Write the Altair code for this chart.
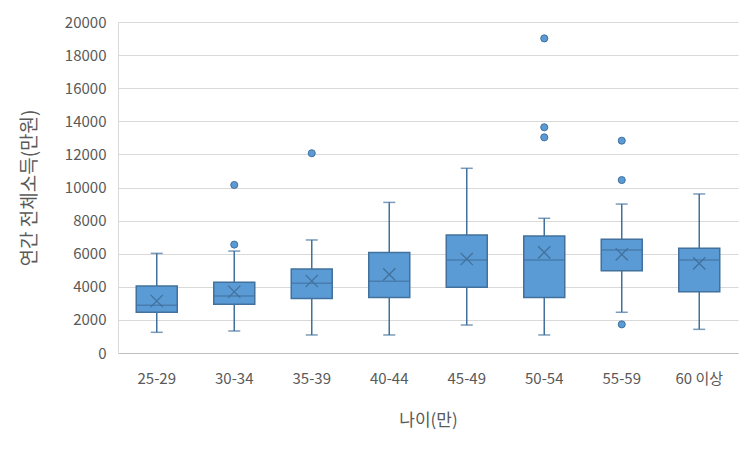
import altair as alt
import pandas as pd

categories = ["25-29", "30-34", "35-39", "40-44", "45-49", "50-54", "55-59", "60 이상"]
whisker_low = [1250, 1330, 1090, 1090, 1690, 1090, 2460, 1430]
q1 = [2460, 2940, 3300, 3360, 3970, 3360, 4970, 3700]
median = [2880, 3440, 4210, 4330, 5620, 5620, 6220, 5620]
q3 = [4050, 4270, 5080, 6080, 7130, 7070, 6870, 6330]
whisker_high = [6020, 6160, 6830, 9100, 11160, 8140, 9000, 9610]
mean = [3140, 3700, 4350, 4750, 5680, 6080, 5960, 5420]

outlier_cat = ["30-34", "30-34", "35-39", "50-54", "50-54", "50-54", "55-59", "55-59", "55-59"]
outlier_val = [6550, 10150, 12070, 19010, 13640, 13030, 12830, 10450, 1730]
y_ticks = list(range(0, 20001, 2000))

box = pd.DataFrame({
    "age": categories, "lo": whisker_low, "q1": q1, "med": median,
    "q3": q3, "hi": whisker_high, "mean": mean,
})
outl = pd.DataFrame({"age": outlier_cat, "v": outlier_val})

FILL = "#5B9BD5"
LINE = "#41719C"
FONT = "Noto Sans CJK KR"

x = alt.X("age:N", sort=categories, title="나이(만)",
          axis=alt.Axis(labelAngle=0, ticks=False, labelPadding=18, titlePadding=26,
                        domainColor="#BFBFBF", labelFontSize=15, titleFontSize=17,
                        labelColor="#595959", titleColor="#595959", titleFontWeight="normal"))
yscale = alt.Scale(domain=[0, 20000], nice=False)
yaxis = alt.Axis(values=y_ticks, format="d", ticks=False, labelOverlap=False,
                 labelPadding=12, titlePadding=25, gridColor="#D9D9D9", domainColor="#D9D9D9",
                 labelFontSize=15, titleFontSize=19, labelColor="#595959",
                 titleColor="#595959", titleFontWeight="normal")


def Y(field):
    return alt.Y(field, type="quantitative", scale=yscale, axis=yaxis,
                 title="연간 전체소득(만원)")


base = alt.Chart(box).encode(x=x)

whisk = base.mark_rule(color=LINE, strokeWidth=1.5).encode(y=Y("lo"), y2="hi:Q")
cap_lo = base.mark_tick(color=LINE, size=12, thickness=1.5).encode(y=Y("lo"))
cap_hi = base.mark_tick(color=LINE, size=12, thickness=1.5).encode(y=Y("hi"))
rect = base.mark_bar(size=41, fill=FILL, stroke=LINE, strokeWidth=1.5).encode(
    y=Y("q1"), y2="q3:Q")
med = base.mark_tick(color=LINE, size=41, thickness=1.5).encode(y=Y("med"))
mn = base.mark_point(shape="M-1,-1L1,1M-1,1L1,-1", size=150, color=LINE,
                     strokeWidth=1.3, opacity=1).encode(y=Y("mean"))
pts = alt.Chart(outl).mark_circle(size=50, color=FILL, stroke=LINE, strokeWidth=1,
                                   opacity=1).encode(x=x, y=Y("v"))

chart = alt.layer(whisk, cap_lo, cap_hi, rect, med, mn, pts).properties(
    width=620, height=331,
    autosize=alt.AutoSizeParams(type="none"),
    padding={"left": 110, "top": 14, "right": 5, "bottom": 80},
).configure(font=FONT).configure_view(stroke=None).configure_axisX(grid=False)

chart.save("out.html", embed_options={"renderer": "svg", "actions": False})
